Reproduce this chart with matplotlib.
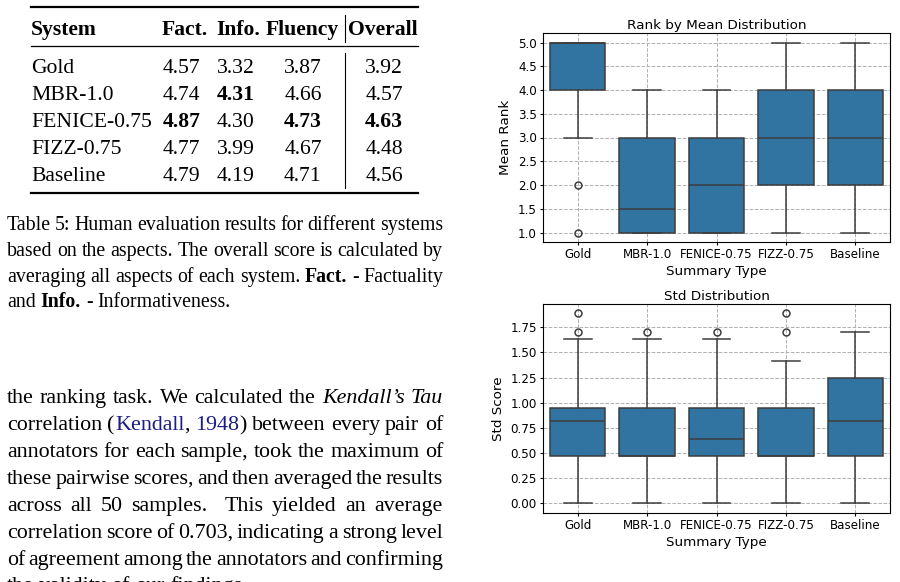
import matplotlib
matplotlib.use("Agg")
import matplotlib.pyplot as plt
from matplotlib.lines import Line2D
import numpy as np

W, H = 900, 582
SERIF = "Liberation Serif"
CITE = "#1c1c86"
BOX = "#3274a1"
EDGE = "#3d3d3d"

# Table 5 values
systems = ["Gold", "MBR-1.0", "FENICE-0.75", "FIZZ-0.75", "Baseline"]
fact = ["4.57", "4.74", "4.87", "4.77", "4.79"]
info = ["3.32", "4.31", "4.30", "3.99", "4.19"]
fluency = ["3.87", "4.66", "4.73", "4.67", "4.71"]
overall = ["3.92", "4.57", "4.63", "4.48", "4.56"]
best_row = {"fact": 2, "info": 1, "fluency": 2, "overall": 2}

# box plot summaries
types = ["Gold", "MBR-1.0", "FENICE-0.75", "FIZZ-0.75", "Baseline"]
rank_q1 = [4, 1, 1, 2, 2]
rank_med = [5, 1.5, 2, 3, 3]
rank_q3 = [5, 3, 3, 4, 4]
rank_lo = [3, 1, 1, 1, 1]
rank_hi = [5, 4, 4, 5, 5]
rank_out = [[2, 1], [], [], [], []]

std_q1 = [0.471, 0.471, 0.471, 0.471, 0.471]
std_med = [0.816, 0.471, 0.645, 0.471, 0.816]
std_q3 = [0.943, 0.943, 0.943, 0.943, 1.247]
std_lo = [0, 0, 0, 0, 0]
std_hi = [1.633, 1.633, 1.633, 1.414, 1.700]
std_out = [[1.700, 1.886], [1.700], [1.700], [1.700, 1.886], []]

caption = [
    [("Table 5: Human evaluation results for different systems", "n")],
    [("based on the aspects. The overall score is calculated by", "n")],
    [("averaging all aspects of each system. ", "n"), ("Fact.", "b"), (" - Factuality", "n")],
    [("and ", "n"), ("Info.", "b"), (" - Informativeness.", "n")],
]
body = [
    [("the ranking task. We calculated the ", "n"), ("Kendall\u2019s Tau", "i")],
    [("correlation (", "n"), ("Kendall", "c"), (", ", "n"), ("1948", "c"), (") between every pair of", "n")],
    [("annotators for each sample, took the maximum of", "n")],
    [("these pairwise scores, and then averaged the results", "n")],
    [("across all 50 samples.  This yielded an average", "n")],
    [("correlation score of 0.703, indicating a strong level", "n")],
    [("of agreement among the annotators and confirming", "n")],
    [("the validity of our findings.", "n")],
]

fig = plt.figure(figsize=(9, 5.82), dpi=100)
renderer = fig.canvas.get_renderer()

STYLES = {"n": {}, "b": {"weight": "bold"}, "i": {"style": "italic"}, "c": {"color": CITE}}


def fx(x):
    return x / W


def fy(y):
    return 1 - y / H


def tokenize(segs):
    words, gaps, cur, pending = [], [], [], 0
    for text, st in segs:
        for i, part in enumerate(text.split(" ")):
            if i > 0:
                if cur:
                    words.append(cur)
                    cur = []
                pending += 1
            if part:
                if not cur and words:
                    gaps.append(pending)
                pending = 0
                cur.append((part, st))
    if cur:
        words.append(cur)
    return words, gaps


def ink(s, size, st):
    t = fig.text(0, 0, s, fontsize=size, family=SERIF)
    t.update(STYLES[st])
    w = t.get_window_extent(renderer).width
    t.remove()
    return w


def advance(s, size, st):
    # ink width hides side bearings, so pad with a reference glyph on both sides
    return ink("x" + s + "x", size, st) - ink("xx", size, st)


def draw_line(segs, x0, yb, size, width=None):
    words, gaps = tokenize(segs)
    placed = []
    total = 0
    for w in words:
        arts = []
        for txt, st in w:
            t = fig.text(0, fy(yb), txt, fontsize=size, family=SERIF,
                         va="baseline", ha="left", color="black")
            t.update(STYLES[st])
            arts.append((t, advance(txt, size, st)))
        placed.append(arts)
        total += sum(a[1] for a in arts)
    unit = size * 100 / 72 * 0.25
    if width is not None and gaps:
        unit = (width - total) / sum(gaps)
    x = x0
    for k, arts in enumerate(placed):
        if k > 0:
            x += unit * gaps[k - 1]
        for t, w in arts:
            t.set_x(fx(x))
            x += w


# ---- table ----
TS = 15.6
rule_l, rule_r = 31, 418
fig.add_artist(Line2D([fx(rule_l), fx(rule_r)], [fy(7), fy(7)], color="black", lw=1.6))
fig.add_artist(Line2D([fx(rule_l), fx(rule_r)], [fy(46), fy(46)], color="black", lw=0.9))
fig.add_artist(Line2D([fx(rule_l), fx(rule_r)], [fy(193), fy(193)], color="black", lw=1.6))
fig.add_artist(Line2D([fx(345), fx(345)], [fy(15), fy(42)], color="black", lw=0.8))
fig.add_artist(Line2D([fx(345), fx(345)], [fy(53), fy(188)], color="black", lw=0.8))

cols = [("fact", fact, 163, "left"), ("info", info, 217, "left"),
        ("fluency", fluency, 303, "center"), ("overall", overall, 384, "center")]
fig.text(fx(31), fy(35), "System", fontsize=TS, family=SERIF, weight="bold", va="baseline")
fig.text(fx(162), fy(35), "Fact.", fontsize=TS, family=SERIF, weight="bold", va="baseline")
fig.text(fx(216), fy(35), "Info.", fontsize=TS, family=SERIF, weight="bold", va="baseline")
fig.text(fx(302.5), fy(35), "Fluency", fontsize=TS, family=SERIF, weight="bold", va="baseline", ha="center")
fig.text(fx(382.5), fy(35), "Overall", fontsize=TS, family=SERIF, weight="bold", va="baseline", ha="center")

row_y = [73, 100, 127, 154, 181]
for i, name in enumerate(systems):
    fig.text(fx(31), fy(row_y[i]), name, fontsize=TS, family=SERIF, va="baseline")
    for key, vals, x, ha in cols:
        fig.text(fx(x), fy(row_y[i]), vals[i], fontsize=TS, family=SERIF, va="baseline", ha=ha,
                 weight="bold" if best_row[key] == i else "normal")

# ---- caption and body text ----
cap_y = [230, 256, 282, 307]
for k, segs in enumerate(caption):
    draw_line(segs, 7, cap_y[k], 14.3, None if k == len(caption) - 1 else 436)

body_y = [403, 430, 457, 484, 511, 538, 565, 591]
for k, segs in enumerate(body):
    draw_line(segs, 7, body_y[k], 15.8, None if k == len(body) - 1 else 436)


# ---- box plots ----
def stats(q1, med, q3, lo, hi, out):
    return [dict(q1=q1[i], med=med[i], q3=q3[i], whislo=lo[i], whishi=hi[i], fliers=out[i])
            for i in range(len(q1))]


def boxes(ax, st, title, ylabel, ticks, fmt):
    ax.bxp(st, positions=range(len(types)), widths=0.8, capwidths=0.4, patch_artist=True,
           boxprops=dict(facecolor=BOX, edgecolor=EDGE, linewidth=1.1),
           medianprops=dict(color=EDGE, linewidth=1.1),
           whiskerprops=dict(color=EDGE, linewidth=1.1),
           capprops=dict(color=EDGE, linewidth=1.1),
           flierprops=dict(marker="o", markerfacecolor="none", markeredgecolor=EDGE,
                           markersize=5, markeredgewidth=1.1))
    ax.set_xlim(-0.5, len(types) - 0.5)
    ax.set_xticks(range(len(types)), types)
    ax.set_yticks(ticks)
    ax.set_yticklabels([fmt % t for t in ticks])
    ax.tick_params(labelsize=8.6, length=2.5, pad=2)
    ax.set_title(title, fontsize=9.7, pad=3)
    ax.set_xlabel("Summary Type", fontsize=9.7, labelpad=3)
    ax.set_ylabel(ylabel, fontsize=9.7, labelpad=4)
    ax.grid(True, linestyle="--", color="#b0b0b0", linewidth=0.7)
    ax.set_axisbelow(True)
    for s in ax.spines.values():
        s.set_linewidth(0.8)


ax1 = fig.add_axes([fx(543), fy(242), 347 / W, 209 / H])
boxes(ax1, stats(rank_q1, rank_med, rank_q3, rank_lo, rank_hi, rank_out),
      "Rank by Mean Distribution", "Mean Rank", np.arange(1, 5.01, 0.5), "%.1f")
ax1.set_ylim(0.8, 5.2)

ax2 = fig.add_axes([fx(543), fy(513), 347 / W, 209 / H])
boxes(ax2, stats(std_q1, std_med, std_q3, std_lo, std_hi, std_out),
      "Std Distribution", "Std Score", np.arange(0, 1.76, 0.25), "%.2f")
ax2.set_ylim(-0.0943, 1.98)

fig.savefig("out.png", dpi=100)
